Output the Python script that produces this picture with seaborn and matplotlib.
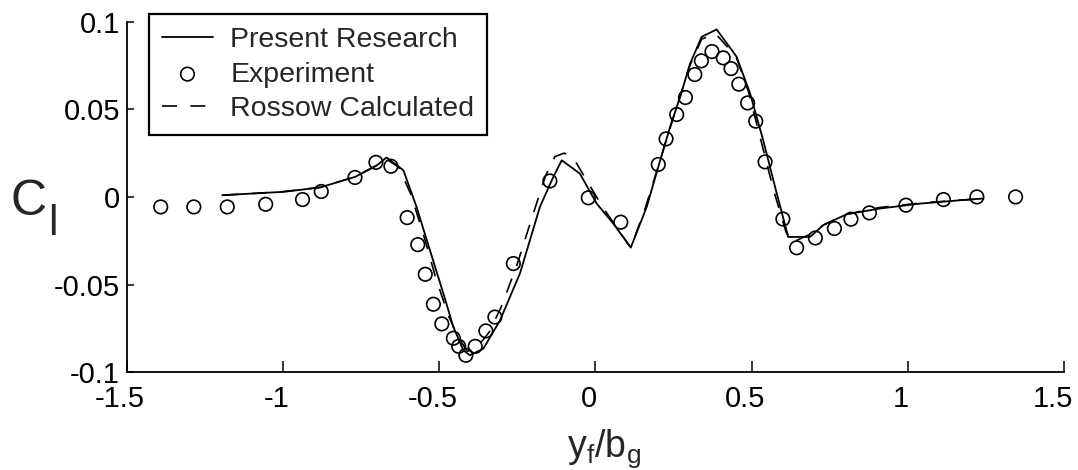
import matplotlib
matplotlib.use("Agg")
import matplotlib.pyplot as plt
import matplotlib.transforms as mtransforms
import seaborn as sns
import pandas as pd

# ---- data ----
exp_x = [-1.392, -1.286, -1.179, -1.056, -0.938, -0.878, -0.770, -0.703, -0.655,
         -0.603, -0.569, -0.545, -0.519, -0.492, -0.455, -0.438, -0.415, -0.385,
         -0.351, -0.322, -0.263, -0.146, -0.023, 0.081, 0.201, 0.226, 0.260, 0.288,
         0.318, 0.339, 0.373, 0.409, 0.434, 0.459, 0.487, 0.513, 0.543, 0.600,
         0.644, 0.704, 0.765, 0.818, 0.877, 0.994, 1.114, 1.221, 1.345]
exp_y = [-0.0057, -0.0057, -0.0057, -0.0042, -0.0015, 0.0031, 0.0111, 0.0197, 0.0175,
         -0.0118, -0.0272, -0.0441, -0.0612, -0.0724, -0.0806, -0.0852, -0.0903, -0.0852,
         -0.0764, -0.0685, -0.0380, 0.0091, -0.0005, -0.0144, 0.0185, 0.0331, 0.0470, 0.0567,
         0.0698, 0.0776, 0.0829, 0.0793, 0.0732, 0.0643, 0.0536, 0.0432, 0.0200, -0.0126,
         -0.0290, -0.0234, -0.0180, -0.0127, -0.0091, -0.0047, -0.0015, 0.0000, 0.0000]

pres_x = [-1.195, -1.000, -0.882, -0.770, -0.700, -0.669, -0.615, -0.573, -0.530,
          -0.487, -0.455, -0.423, -0.402, -0.359, -0.306, -0.242, -0.178, -0.135,
          -0.108, -0.050, 0.004, 0.057, 0.113, 0.164, 0.201, 0.239, 0.271, 0.303,
          0.340, 0.388, 0.452, 0.495, 0.537, 0.575, 0.617, 0.687, 0.729, 0.804,
          0.911, 1.039, 1.167, 1.242]
pres_y = [0.0010, 0.0029, 0.0054, 0.0114, 0.0180, 0.0225, 0.0152, -0.0057, -0.0304,
          -0.0551, -0.0742, -0.0874, -0.0903, -0.0865, -0.0705, -0.0437, -0.0057, 0.0114,
          0.0209, 0.0133, -0.0038, -0.0152, -0.0289, -0.0057, 0.0171, 0.0400, 0.0570, 0.0761,
          0.0913, 0.0955, 0.0799, 0.0590, 0.0323, 0.0057, -0.0228, -0.0228, -0.0161, -0.0099,
          -0.0066, -0.0038, -0.0019, -0.0009]

ros_x = [-1.190, -1.000, -0.880, -0.770, -0.700, -0.665, -0.630, -0.590, -0.550,
         -0.510, -0.470, -0.440, -0.410, -0.380, -0.340, -0.300, -0.250, -0.200,
         -0.160, -0.130, -0.100, -0.070, -0.030, 0.020, 0.070, 0.113, 0.160, 0.200,
         0.240, 0.270, 0.300, 0.340, 0.385, 0.450, 0.490, 0.530, 0.570, 0.610,
         0.630, 0.690, 0.730, 0.800, 0.910, 1.040, 1.170, 1.240]
ros_y = [0.0010, 0.0030, 0.0055, 0.0115, 0.0180, 0.0210, 0.0170, 0.0010, -0.0220,
         -0.0470, -0.0680, -0.0800, -0.0880, -0.0860, -0.0770, -0.0620, -0.0380, -0.0100,
         0.0120, 0.0230, 0.0250, 0.0220, 0.0100, -0.0050, -0.0180, -0.0290, -0.0060, 0.0170,
         0.0400, 0.0570, 0.0740, 0.0900, 0.0930, 0.0800, 0.0600, 0.0320, 0.0040, -0.0200,
         -0.0260, -0.0210, -0.0160, -0.0100, -0.0060, -0.0035, -0.0018, -0.0010]

x_ticks = [-1.5, -1.0, -0.5, 0.0, 0.5, 1.0, 1.5]
x_tick_labels = ["-1.5", "-1", "-0.5", "0", "0.5", "1", "1.5"]
y_ticks = [-0.1, -0.05, 0.0, 0.05, 0.1]
y_tick_labels = ["-0.1", "-0.05", "0", "0.05", "0.1"]

labels = ["Present Research", "Experiment", "Rossow Calculated"]

# ---- styling ----
sns.set_style("ticks")
plt.rcParams["font.family"] = ["Liberation Sans", "DejaVu Sans"]
plt.rcParams["axes.unicode_minus"] = False
plt.rcParams["mathtext.default"] = "regular"

fig = plt.figure(figsize=(10.78, 4.70), dpi=100)
ax = fig.add_axes([0.1178, 0.2079, 0.8692, 0.7462])

df_p = pd.DataFrame({"x": pres_x, "y": pres_y})
df_e = pd.DataFrame({"x": exp_x, "y": exp_y})
df_r = pd.DataFrame({"x": ros_x, "y": ros_y})

sns.lineplot(data=df_p, x="x", y="y", ax=ax, color="black", lw=1.3,
             estimator=None, sort=False, label=labels[0])
sns.scatterplot(data=df_e, x="x", y="y", ax=ax, marker="o", s=95,
                facecolor="none", edgecolor="black", linewidth=1.2,
                label=labels[1], zorder=3)
sns.lineplot(data=df_r, x="x", y="y", ax=ax, color="black", lw=1.2,
             estimator=None, sort=False, label=labels[2], dashes=False)
ax.lines[-1].set_linestyle((0, (9, 8)))

ax.set_xlim(-1.5, 1.5)
ax.set_ylim(-0.1, 0.1)
ax.set_xticks(x_ticks)
ax.set_xticklabels(x_tick_labels)
ax.set_yticks(y_ticks)
ax.set_yticklabels(y_tick_labels)
ax.tick_params(axis="both", direction="in", labelsize=21, colors="black",
               width=1.1)
ax.tick_params(axis="x", length=8, pad=9)
ax.tick_params(axis="y", length=5, pad=5)

# shift x tick labels slightly left as in the reference
for i, lab in enumerate(ax.get_xticklabels()):
    dx = -11 if i == len(x_ticks) - 1 else -7
    lab.set_transform(lab.get_transform() +
                      mtransforms.ScaledTranslation(dx / 100, 0, fig.dpi_scale_trans))

for side in ["top", "right"]:
    ax.spines[side].set_visible(False)
for side in ["left", "bottom"]:
    ax.spines[side].set_color("black")
    ax.spines[side].set_linewidth(1.3)

ax.set_xlabel(r"$\mathregular{y_f/b_g}$", fontsize=27)
ax.xaxis.set_label_coords(0.509, -0.157)

# y label: large "C" with a large subscript "l"
ax.set_ylabel("C", fontsize=36, rotation=0, va="baseline", ha="left")
ax.yaxis.set_label_coords(-0.1245, 0.448)
fig.text(48 / 1078, 1 - 235 / 470, "l", fontsize=31, ha="left", va="baseline")

handles, _ = ax.get_legend_handles_labels()
leg = ax.legend(handles=handles, labels=labels, loc="upper left",
                bbox_to_anchor=(0.0235, 1.021), borderaxespad=0,
                fontsize=20.5, frameon=True, fancybox=False, framealpha=1,
                edgecolor="black", handlelength=1.8, handletextpad=0.6,
                borderpad=0.45, labelspacing=0.3)
leg.get_frame().set_linewidth(1.6)

fig.savefig("out.png", dpi=100, facecolor="white")
